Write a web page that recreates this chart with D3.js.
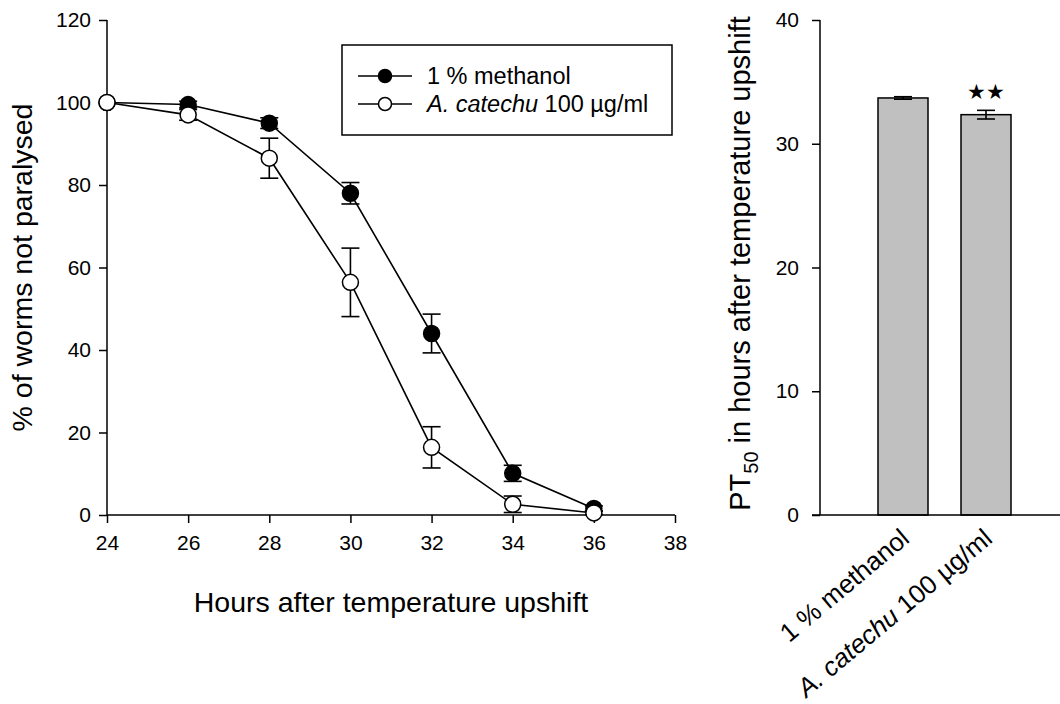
<!DOCTYPE html>
<html>
<head>
<meta charset="utf-8">
<script src="https://cdn.jsdelivr.net/npm/d3@7"></script>
<style>
  html, body { margin: 0; padding: 0; background: #fff; }
  svg { display: block; font-family: "Liberation Sans", Arial, sans-serif; }
</style>
</head>
<body>
<svg id="chart" width="1060" height="704"></svg>
<script>
// Paralysis time course
const hours = [24, 26, 28, 30, 32, 34, 36];
const methanol = [100, 99.5, 95, 78, 44, 10.1, 1.6];
const methanolErr = [0, 0.8, 1.3, 2.6, 4.7, 1.95, 0.6];
const catechu = [100, 97, 86.5, 56.4, 16.4, 2.6, 0.5];
const catechuErr = [0, 1.3, 4.85, 8.3, 5.0, 2.0, 0.4];
const xTicks = [24, 26, 28, 30, 32, 34, 36, 38];
const yTicks = [0, 20, 40, 60, 80, 100, 120];

// PT50 summary
const groups = ["1 % methanol", "A. catechu 100 µg/ml"];
const pt50 = [33.7, 32.35];
const pt50Err = [0.1, 0.35];
const pt50Ticks = [0, 10, 20, 30, 40];

const svg = d3.select("#chart");
const ink = "#000";

// ---------- left panel ----------
const x = d3.scaleLinear().domain([24, 38]).range([107, 675]);
const y = d3.scaleLinear().domain([0, 120]).range([515, 20]);

const left = svg.append("g");

const xAxis = left.append("g")
  .attr("transform", `translate(0,${y(0)})`)
  .call(d3.axisBottom(x).tickValues(xTicks).tickSize(8).tickPadding(12).tickFormat(d3.format("d")));
const yAxis = left.append("g")
  .attr("transform", `translate(${x(24)},0)`)
  .call(d3.axisLeft(y).tickValues(yTicks).tickSize(8).tickPadding(8).tickFormat(d3.format("d")));
[xAxis, yAxis].forEach(a => {
  a.selectAll("path, line").attr("stroke", ink).attr("stroke-width", 1.5);
  a.selectAll("text").attr("fill", ink).style("font-size", "21px");
  a.select(".domain").attr("d", a === xAxis
    ? `M${x(24)},0H${x(38)}` : `M0,${y(0)}V${y(120)}`);
});

left.append("text")
  .attr("x", x(31)).attr("y", 612)
  .attr("text-anchor", "middle")
  .style("font-size", "28.5px")
  .text("Hours after temperature upshift");

left.append("text")
  .attr("transform", `translate(32,${y(60)}) rotate(-90)`)
  .attr("text-anchor", "middle")
  .style("font-size", "28.5px")
  .text("% of worms not paralysed");

const series = [
  { vals: methanol, err: methanolErr, fill: ink },
  { vals: catechu, err: catechuErr, fill: "#fff" }
];
const line = d3.line().x(d => x(d.h)).y(d => y(d.v));

series.forEach(s => {
  const pts = hours.map((h, i) => ({ h, v: s.vals[i], e: s.err[i] }));
  const g = left.append("g");
  g.append("path").datum(pts)
    .attr("d", line).attr("fill", "none")
    .attr("stroke", ink).attr("stroke-width", 1.6);
  const eb = g.selectAll(".eb").data(pts.filter(p => p.e > 0)).join("g");
  eb.append("line")
    .attr("x1", d => x(d.h)).attr("x2", d => x(d.h))
    .attr("y1", d => y(d.v + d.e)).attr("y2", d => y(d.v - d.e))
    .attr("stroke", ink).attr("stroke-width", 1.6);
  [1, -1].forEach(sign => {
    eb.append("line")
      .attr("x1", d => x(d.h) - 9).attr("x2", d => x(d.h) + 9)
      .attr("y1", d => y(d.v + sign * d.e)).attr("y2", d => y(d.v + sign * d.e))
      .attr("stroke", ink).attr("stroke-width", 1.6);
  });
  s.g = g; s.pts = pts;
});
// markers on top of all lines
series.forEach(s => {
  s.g.selectAll("circle").data(s.pts).join("circle")
    .attr("cx", d => x(d.h)).attr("cy", d => y(d.v)).attr("r", 8)
    .attr("fill", s.fill).attr("stroke", ink).attr("stroke-width", 1.5);
});

// legend
const lg = left.append("g");
lg.append("rect").attr("x", 342).attr("y", 45).attr("width", 330).attr("height", 90)
  .attr("fill", "#fff").attr("stroke", ink).attr("stroke-width", 1.5);
const legendRows = [
  { fill: ink, label: [{ t: "1 % methanol", it: false }] },
  { fill: "#fff", label: [{ t: "A. catechu", it: true }, { t: " 100 µg/ml", it: false }] }
];
legendRows.forEach((r, i) => {
  const cy = 76 + i * 28;
  lg.append("line").attr("x1", 358).attr("x2", 412).attr("y1", cy).attr("y2", cy)
    .attr("stroke", ink).attr("stroke-width", 1.6);
  lg.append("circle").attr("cx", 385).attr("cy", cy).attr("r", 6.5)
    .attr("fill", r.fill).attr("stroke", ink).attr("stroke-width", 1.5);
  const t = lg.append("text").attr("x", 427).attr("y", cy + 8).style("font-size", "23.5px");
  r.label.forEach(p => t.append("tspan").style("font-style", p.it ? "italic" : "normal").text(p.t));
});

// ---------- right panel ----------
const xb = d3.scalePoint().domain(groups).range([820, 1069]).padding(1);
const yb = d3.scaleLinear().domain([0, 40]).range([515, 20]);
const barW = 50;

const right = svg.append("g");
const ybAxis = right.append("g")
  .attr("transform", `translate(820,0)`)
  .call(d3.axisLeft(yb).tickValues(pt50Ticks).tickSize(8).tickPadding(13));
ybAxis.selectAll("path, line").attr("stroke", ink).attr("stroke-width", 1.5);
ybAxis.selectAll("text").attr("fill", ink).style("font-size", "21px");
ybAxis.select(".domain").attr("d", `M0,${yb(0)}V${yb(40)}`);

right.selectAll(".bar").data(groups).join("rect")
  .attr("x", d => xb(d) - barW / 2).attr("width", barW)
  .attr("y", (d, i) => yb(pt50[i])).attr("height", (d, i) => yb(0) - yb(pt50[i]))
  .attr("fill", "#c0c0c0").attr("stroke", ink).attr("stroke-width", 1.5);

// baseline of the bar panel
right.append("line").attr("x1", 812).attr("x2", 1069).attr("y1", yb(0)).attr("y2", yb(0))
  .attr("stroke", ink).attr("stroke-width", 1.5);

groups.forEach((gname, i) => {
  const cx = xb(gname), hi = yb(pt50[i] + pt50Err[i]), lo = yb(pt50[i] - pt50Err[i]);
  right.append("line").attr("x1", cx).attr("x2", cx).attr("y1", hi).attr("y2", lo)
    .attr("stroke", ink).attr("stroke-width", 1.6);
  [hi, lo].forEach(yy => right.append("line")
    .attr("x1", cx - 9).attr("x2", cx + 9).attr("y1", yy).attr("y2", yy)
    .attr("stroke", ink).attr("stroke-width", 1.6));
});

right.append("text")
  .attr("x", xb(groups[1])).attr("y", 99)
  .attr("text-anchor", "middle").style("font-size", "21px")
  .text("★★");

// rotated category labels
const catLabels = [
  [{ t: "1 % methanol", it: false }],
  [{ t: "A. catechu", it: true }, { t: " 100 µg/ml", it: false }]
];
groups.forEach((gname, i) => {
  const t = right.append("text")
    .attr("transform", `translate(${xb(gname) + 8},${yb(0) + 26}) rotate(-40)`)
    .attr("text-anchor", "end").style("font-size", "26px");
  catLabels[i].forEach(p => t.append("tspan").style("font-style", p.it ? "italic" : "normal").text(p.t));
});

const yl = right.append("text")
  .attr("transform", `translate(750,${yb(20) - 4}) rotate(-90)`)
  .attr("text-anchor", "middle").style("font-size", "29px");
yl.append("tspan").text("PT");
yl.append("tspan").attr("dy", 8).style("font-size", "20px").text("50");
yl.append("tspan").attr("dy", -8).text(" in hours after temperature upshift");
</script>
</body>
</html>
